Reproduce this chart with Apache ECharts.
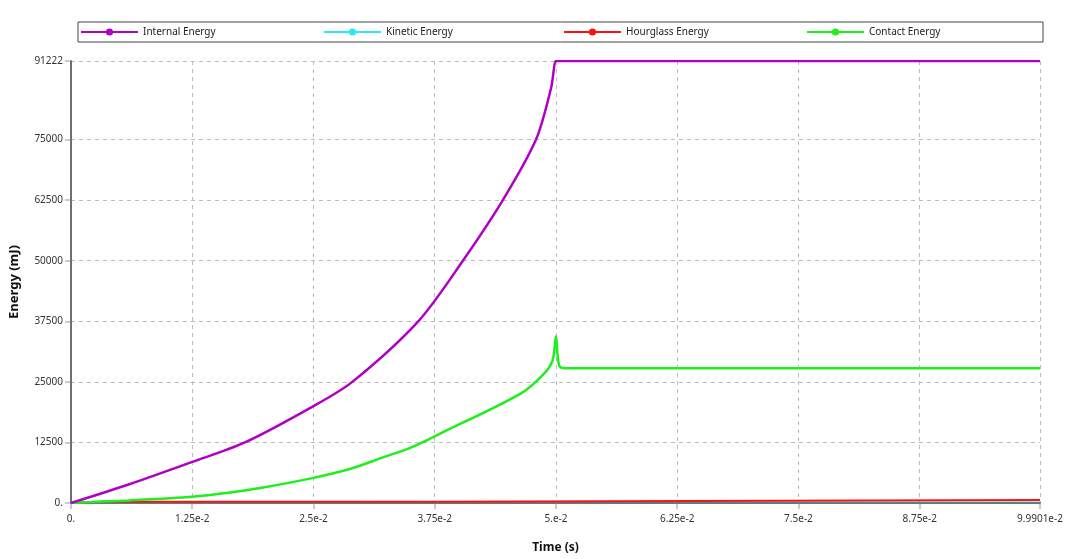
<!DOCTYPE html>
<html>
<head>
<meta charset="utf-8">
<title>Energy</title>
<script src="https://cdn.jsdelivr.net/npm/echarts@6/dist/echarts.min.js"></script>
<style>
  html, body { margin: 0; padding: 0; background: #fff; }
  #chart { width: 1080px; height: 559px; }
</style>
</head>
<body>
<div id="chart"></div>
<script>
// values
var seriesNames = ['Internal Energy', 'Kinetic Energy', 'Hourglass Energy', 'Contact Energy'];
var seriesColors = ['#b000c4', '#2ee8f0', '#ff1010', '#1ef01e'];

var xTicks = [0, 0.0125, 0.025, 0.0375, 0.05, 0.0625, 0.075, 0.0875, 0.099901];
var xTickLabels = ['0.', '1.25e-2', '2.5e-2', '3.75e-2', '5.e-2', '6.25e-2', '7.5e-2', '8.75e-2', '9.9901e-2'];
var yTicks = [0, 12500, 25000, 37500, 50000, 62500, 75000, 91222];
var yTickLabels = ['0.', '12500', '25000', '37500', '50000', '62500', '75000', '91222'];

var internalT = [0, 0.00594, 0.0125, 0.01793, 0.025, 0.029, 0.0358, 0.0404,
  0.04452, 0.04794, 0.04949, 0.05, 0.0502, 0.099901];
var internalE = [0, 3820, 8480, 12500, 20000, 25000, 37500, 50000,
  62500, 75000, 85590, 91222, 91222, 91222];

var kineticT = [0, 0.003, 0.0375, 0.099901];
var kineticE = [0, 60, 100, 100];

var hourglassT = [0, 0.003, 0.0374, 0.0376, 0.099901];
var hourglassE = [0, 250, 250, 600, 600];

var contactT = [0, 0.00594, 0.0125, 0.01622, 0.01965, 0.025, 0.02857, 0.032, 0.03508, 0.03817,
  0.0464, 0.0488, 0.04966, 0.05, 0.05017, 0.0504, 0.0512, 0.099901];
var contactE = [0, 530, 1290, 2110, 3140, 5190, 6900, 9300, 11490, 14430,
  22640, 26750, 29480, 34400, 30500, 28120, 27800, 27800];

function pairs(t, e) {
  var out = [];
  for (var i = 0; i < t.length; i++) out.push([t[i], e[i]]);
  return out;
}

function labelFor(ticks, labels) {
  return function (v) {
    var best = 0;
    for (var i = 1; i < ticks.length; i++) {
      if (Math.abs(ticks[i] - v) < Math.abs(ticks[best] - v)) best = i;
    }
    return labels[best];
  };
}

var chart = echarts.init(document.getElementById('chart'));
var font = 'Noto Sans';

var legendLeft = [75, 318, 558, 801];
var legends = seriesNames.map(function (n, i) {
  return {
    data: [n],
    left: legendLeft[i],
    top: 22,
    itemWidth: 57,
    itemHeight: 9,
    itemGap: 5,
    selectedMode: false,
    textStyle: { fontFamily: font, fontSize: 10, color: '#222' }
  };
});

var lineData = [pairs(internalT, internalE), pairs(kineticT, kineticE),
  pairs(hourglassT, hourglassE), pairs(contactT, contactE)];
var widths = [2.5, 2, 2, 2.5];
var zs = [5, 2, 3, 4];
var smooths = [0.3, false, false, 0.3];

var frameLine = { show: true, lineStyle: { color: '#666', width: 1.5 } };
var dashed = { show: true, lineStyle: { color: '#bdbdbd', type: [4, 4], width: 1 } };

var option = {
  animation: false,
  backgroundColor: '#fff',
  legend: legends,
  graphic: [{
    type: 'rect',
    shape: { x: 78, y: 22, width: 965, height: 20 },
    style: { fill: 'none', stroke: '#444', lineWidth: 1 },
    silent: true
  }],
  grid: {
    left: 69, right: 40, top: 61, bottom: 54
  },
  xAxis: [{
    type: 'value',
    min: 0,
    max: 0.099901,
    name: 'Time (s)',
    nameLocation: 'middle',
    nameGap: 39,
    nameTextStyle: { fontFamily: font, fontSize: 12, fontWeight: 'bold', color: '#111' },
    axisLine: frameLine,
    axisTick: { show: true, length: 6, lineStyle: { color: '#bbb', width: 1.5 }, customValues: xTicks },
    axisLabel: { fontFamily: font, fontSize: 10, color: '#333', margin: 11,
      customValues: xTicks, formatter: labelFor(xTicks, xTickLabels) },
    splitLine: dashed
  }, {
    type: 'value',
    position: 'top',
    z: 3,
    min: 0,
    max: 0.099901,
    axisLine: frameLine,
    axisTick: { show: false },
    axisLabel: { show: false },
    splitLine: { show: false }
  }],
  yAxis: [{
    type: 'value',
    min: 0,
    max: 91222,
    name: 'Energy (mJ)',
    nameLocation: 'middle',
    nameGap: 50,
    nameTextStyle: { fontFamily: font, fontSize: 13, fontWeight: 'bold', color: '#111' },
    axisLine: frameLine,
    axisTick: { show: true, length: 6, lineStyle: { color: '#bbb', width: 1.5 }, customValues: yTicks },
    axisLabel: { fontFamily: font, fontSize: 10, color: '#333', margin: 8,
      customValues: yTicks, formatter: labelFor(yTicks, yTickLabels) },
    splitLine: dashed
  }, {
    type: 'value',
    position: 'right',
    z: 3,
    min: 0,
    max: 91222,
    axisLine: frameLine,
    axisTick: { show: false },
    axisLabel: { show: false },
    splitLine: { show: false }
  }],
  series: seriesNames.map(function (n, i) {
    return {
      name: n,
      type: 'line',
      data: lineData[i],
      z: zs[i],
      symbol: 'circle',
      symbolSize: 8,
      showSymbol: false,
      smooth: smooths[i],
      color: seriesColors[i],
      lineStyle: { width: widths[i], color: seriesColors[i] },
      itemStyle: { color: seriesColors[i] }
    };
  })
};

chart.setOption(option);
</script>
</body>
</html>
